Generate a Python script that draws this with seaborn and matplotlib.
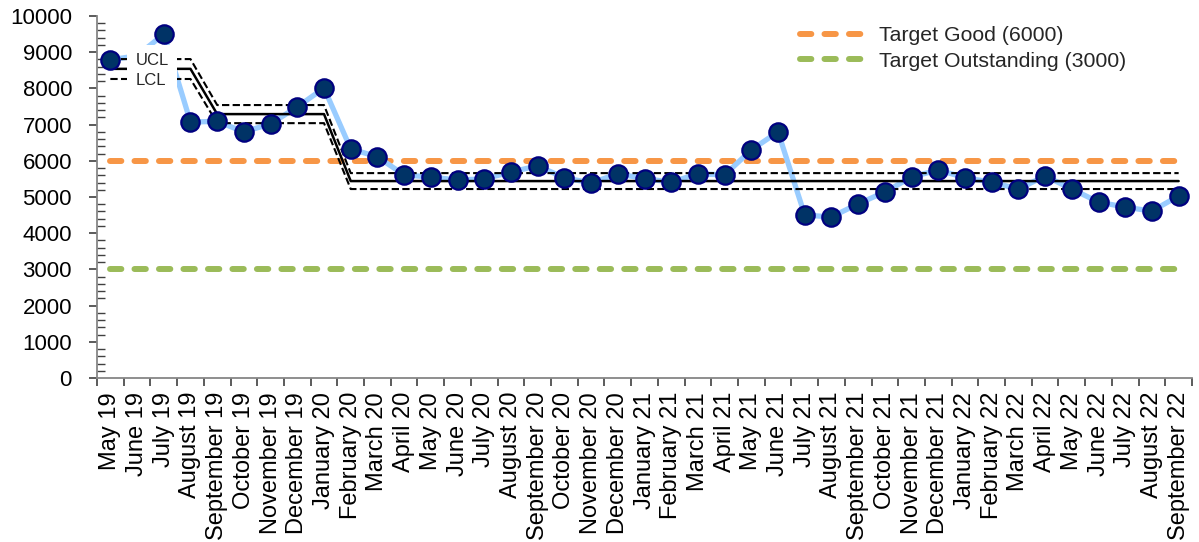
import numpy as np
import pandas as pd
import matplotlib
matplotlib.use("Agg")
import matplotlib.pyplot as plt
from matplotlib.lines import Line2D
import seaborn as sns

# Monthly series
months = ["May 19", "June 19", "July 19", "August 19", "September 19", "October 19",
          "November 19", "December 19", "January 20", "February 20", "March 20",
          "April 20", "May 20", "June 20", "July 20", "August 20", "September 20",
          "October 20", "November 20", "December 20", "January 21", "February 21",
          "March 21", "April 21", "May 21", "June 21", "July 21", "August 21",
          "September 21", "October 21", "November 21", "December 21", "January 22",
          "February 22", "March 22", "April 22", "May 22", "June 22", "July 22",
          "August 22", "September 22"]
values = [8790, 8900, 9500, 7070, 7090, 6800, 7020, 7490, 8010, 6330, 6110,
          5610, 5550, 5470, 5500, 5690, 5860, 5530, 5390, 5640, 5510, 5410,
          5640, 5610, 6300, 6800, 4500, 4450, 4810, 5140, 5550, 5750, 5530,
          5410, 5220, 5580, 5220, 4860, 4720, 4610, 5030]

# Control limits per process phase (phase starts at these month indices)
phase_start = [0, 4, 9]
phase_mean = [8540, 7290, 5440]
phase_ucl = [8810, 7540, 5660]
phase_lcl = [8260, 7040, 5220]

target_good = 6000
target_outstanding = 3000

y_ticks = [0, 1000, 2000, 3000, 4000, 5000, 6000, 7000, 8000, 9000, 10000]

# ---- build tidy frame ----
n = len(months)
idx = np.arange(n)
phase_id = np.searchsorted(phase_start, idx, side="right") - 1
df = pd.DataFrame({
    "i": idx,
    "month": months,
    "value": values,
    "mean": np.array(phase_mean)[phase_id],
    "ucl": np.array(phase_ucl)[phase_id],
    "lcl": np.array(phase_lcl)[phase_id],
    "good": np.full(n, target_good),
    "outstanding": np.full(n, target_outstanding),
})

sns.set_theme(style="white")
plt.rcParams["font.family"] = ["Liberation Sans", "DejaVu Sans"]
plt.rcParams["xtick.labelsize"] = 17
plt.rcParams["ytick.labelsize"] = 16

W, H = 1199, 542
fig = plt.figure(figsize=(W / 100, H / 100), dpi=100)
ax = fig.add_axes([97 / W, (H - 378) / H, (1192 - 97) / W, (378 - 16) / H])


def last_line():
    return ax.get_lines()[-1]


TARGET_DASH = (1.9, 2.2)

# target lines
sns.lineplot(data=df, x="i", y="good", ax=ax, color="#F79646", lw=4.3, zorder=2)
lg = last_line()
lg.set_dashes(TARGET_DASH)
lg.set_dash_capstyle("round")
sns.lineplot(data=df, x="i", y="outstanding", ax=ax, color="#9BBB59", lw=4.3, zorder=2)
lo = last_line()
lo.set_dashes(TARGET_DASH)
lo.set_dash_capstyle("round")

# measured series line
sns.lineplot(data=df, x="i", y="value", ax=ax, color="#99CCFF", lw=3.8, zorder=3)

# control limits
sns.lineplot(data=df, x="i", y="mean", ax=ax, color="black", lw=1.8, zorder=4)
for col in ("ucl", "lcl"):
    sns.lineplot(data=df, x="i", y=col, ax=ax, color="black", lw=1.5, zorder=4)
    last_line().set_dashes((3.5, 1.6))

# markers
sns.scatterplot(data=df, x="i", y="value", ax=ax, s=175, color="#003366",
                edgecolor="#000080", linewidth=1.6, zorder=5, legend=False)

# axes styling
ax.set_xlim(-0.5, n - 0.5)
ax.set_ylim(0, 10000)
ax.set_xlabel("")
ax.set_ylabel("")
ax.set_xticks(idx)
ax.set_xticklabels(months, rotation=90, fontsize=17)
ax.set_xticks(np.arange(n + 1) - 0.5, minor=True)
ax.tick_params(axis="x", which="major", length=0, pad=10, labelsize=17,
               labelcolor="black")
ax.tick_params(axis="x", which="minor", direction="out", length=6, width=1.2,
               color="#404040", bottom=True)
ax.set_yticks(y_ticks)
ax.set_yticks(np.arange(0, 10001, 200), minor=True)
ax.tick_params(axis="y", which="major", direction="out", length=6, width=1.2,
               color="#404040", pad=12, left=True, labelsize=16, labelcolor="black")
ax.tick_params(axis="y", which="minor", direction="in", length=6, width=1.0,
               color="#404040", left=True)
ax.set_yticklabels([str(v) for v in y_ticks], fontsize=16)
for side in ("top", "right"):
    ax.spines[side].set_visible(False)
for side in ("left", "bottom"):
    ax.spines[side].set_color("#868686")
    ax.spines[side].set_linewidth(1.3)

# legend for the targets
t_handles = [
    Line2D([], [], color="#F79646", lw=4.3, dashes=TARGET_DASH, dash_capstyle="round"),
    Line2D([], [], color="#9BBB59", lw=4.3, dashes=TARGET_DASH, dash_capstyle="round"),
]
leg1 = ax.legend(t_handles, ["Target Good (6000)", "Target Outstanding (3000)"],
                 loc="upper left", bbox_to_anchor=(800 / W, 1 - 26 / H),
                 bbox_transform=fig.transFigure, frameon=False, fontsize=15.3,
                 handlelength=3.0, handletextpad=0.7, labelspacing=0.32,
                 borderpad=0, borderaxespad=0)
ax.add_artist(leg1)

# legend for the control limits
c_handles = [Line2D([], [], color="none"), Line2D([], [], color="none")]
leg2 = ax.legend(c_handles, ["UCL", "LCL"], loc="upper left",
                 bbox_to_anchor=(127 / W, 1 - 45 / H), bbox_transform=fig.transFigure,
                 frameon=True, fontsize=12, handlelength=0, handletextpad=0,
                 labelspacing=0.3, borderpad=0.5, borderaxespad=0, fancybox=False)
leg2.get_frame().set_facecolor("white")
leg2.get_frame().set_edgecolor("none")
leg2.get_frame().set_alpha(1)
leg2.set_zorder(10)

fig.savefig("out.png", dpi=100, facecolor="white")
